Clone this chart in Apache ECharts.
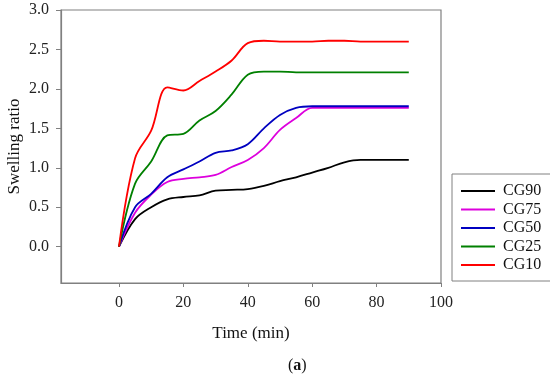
<!DOCTYPE html>
<html>
<head>
<meta charset="utf-8">
<script src="https://cdn.jsdelivr.net/npm/echarts@6/dist/echarts.min.js"></script>
<style>html,body{margin:0;padding:0;background:#fff}#c{width:550px;height:378px}</style>
</head>
<body>
<div id="c"></div>
<script>
var time = [0, 5, 10, 15, 20, 25, 30, 35, 40, 45, 50, 55, 60, 65, 70, 75, 80, 85, 90];
var cg90 = [0, 0.35, 0.50, 0.60, 0.63, 0.65, 0.71, 0.72, 0.73, 0.77, 0.83, 0.88, 0.94, 1.00, 1.07, 1.10, 1.10, 1.10, 1.10];
var cg75 = [0, 0.43, 0.66, 0.82, 0.86, 0.88, 0.91, 1.01, 1.10, 1.25, 1.48, 1.63, 1.76, 1.76, 1.76, 1.76, 1.76, 1.76, 1.76];
var cg50 = [0, 0.50, 0.67, 0.88, 0.98, 1.08, 1.19, 1.22, 1.30, 1.50, 1.67, 1.76, 1.78, 1.78, 1.78, 1.78, 1.78, 1.78, 1.78];
var cg25 = [0, 0.80, 1.08, 1.41, 1.43, 1.60, 1.72, 1.93, 2.18, 2.22, 2.22, 2.21, 2.21, 2.21, 2.21, 2.21, 2.21, 2.21, 2.21];
var cg10 = [0, 1.12, 1.47, 2.02, 1.98, 2.10, 2.22, 2.36, 2.58, 2.61, 2.60, 2.60, 2.60, 2.61, 2.61, 2.60, 2.60, 2.60, 2.60];
var seriesNames = ['CG90', 'CG75', 'CG50', 'CG25', 'CG10'];
var seriesValues = [cg90, cg75, cg50, cg25, cg10];
var colors = ['#000000', '#dd00dd', '#0000c0', '#008000', '#ff0000'];
var xTicks = [0, 20, 40, 60, 80, 100];
var yTicks = [0, 0.5, 1.0, 1.5, 2.0, 2.5, 3.0];

var font = '"Liberation Serif", "Times New Roman", serif';
var chart = echarts.init(document.getElementById('c'));
var series = seriesNames.map(function (n, i) {
  return {
    name: n, type: 'line', symbol: 'none', smooth: 0.35,
    lineStyle: { color: colors[i], width: 1.8 },
    itemStyle: { color: colors[i] },
    data: time.map(function (t, j) { return [t, seriesValues[i][j]]; })
  };
});
chart.setOption({
  backgroundColor: '#fff',
  animation: false,
  color: colors,
  grid: { left: 61, right: 109, top: 10, bottom: 95, show: true, borderColor: '#808080', borderWidth: 1.2,
    containLabel: false, outerBoundsMode: 'none' },
  xAxis: {
    type: 'value', min: -18, max: 100,
    name: 'Time (min)', nameLocation: 'middle', nameGap: 42,
    nameTextStyle: { fontFamily: font, fontSize: 17, color: '#111' },
    axisLine: { show: true, onZero: false, lineStyle: { color: '#808080', width: 1.2 } },
    axisTick: { show: true, length: 4, customValues: xTicks, lineStyle: { color: '#808080' } },
    axisLabel: { customValues: xTicks, margin: 12, fontFamily: font, fontSize: 16, color: '#222' },
    splitLine: { show: false }
  },
  yAxis: {
    type: 'value', min: -0.46, max: 3.0,
    name: 'Swelling ratio', nameLocation: 'middle', nameGap: 38, nameMoveOverlap: false,
    nameTextStyle: { fontFamily: font, fontSize: 17, color: '#111' },
    axisLine: { show: true, onZero: false, lineStyle: { color: '#808080', width: 1.2 } },
    axisTick: { show: true, length: 5, customValues: yTicks, lineStyle: { color: '#808080' } },
    axisLabel: { customValues: yTicks, margin: 12, fontFamily: font, fontSize: 16, color: '#222',
      formatter: function (v) { return v.toFixed(1); } },
    splitLine: { show: false }
  },
  legend: {
    orient: 'vertical', left: 452, top: 174,
    data: seriesNames,
    itemWidth: 34, itemHeight: 14, itemGap: 2.5,
    padding: [9, 10, 8, 8],
    borderColor: '#808080', borderWidth: 1,
    itemStyle: { opacity: 0 },
    lineStyle: { width: 2 },
    textStyle: { fontFamily: font, fontSize: 16, lineHeight: 14, color: '#111', padding: [0, 0, 0, 3] }
  },
  graphic: [{
    type: 'text', left: 288, top: 358,
    style: {
      text: '{n|(}{b|a}{n|)}',
      rich: {
        n: { fontFamily: font, fontSize: 16, fill: '#111' },
        b: { fontFamily: font, fontSize: 16, fontWeight: 'bold', fill: '#111' }
      }
    }
  }],
  series: series
});
</script>
</body>
</html>
